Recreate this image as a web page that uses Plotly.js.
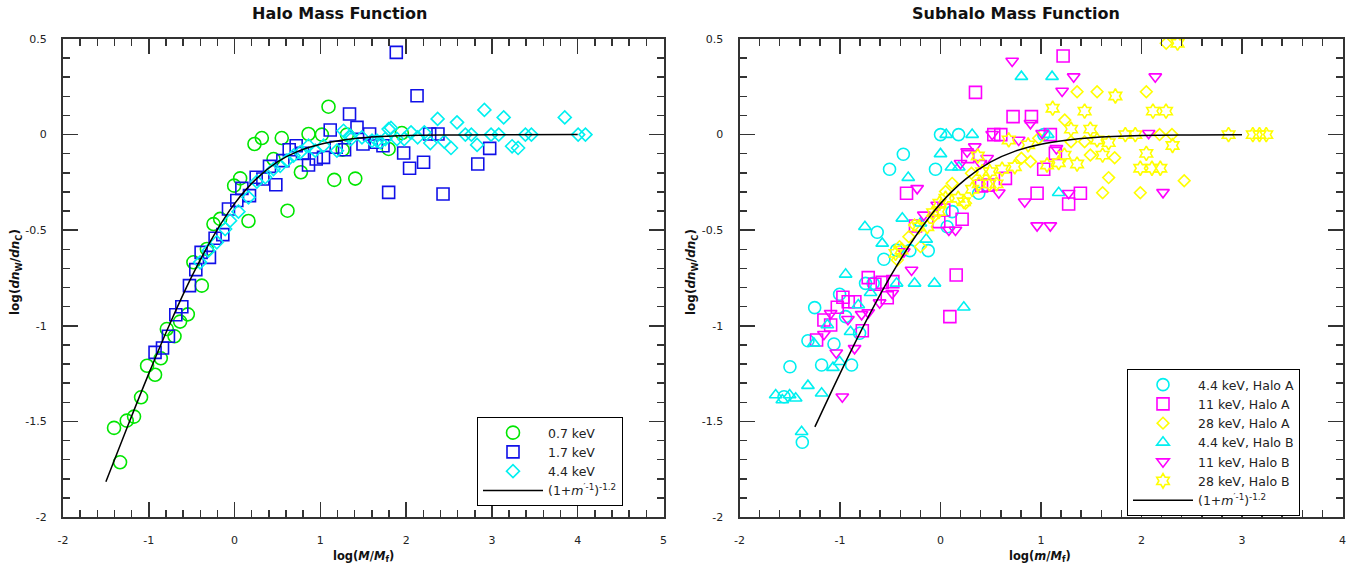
<!DOCTYPE html>
<html>
<head>
<meta charset="utf-8">
<script src="https://cdn.plot.ly/plotly-3.0.1.min.js"></script>
<style>
html,body{margin:0;padding:0;background:#fff;}
#chart{width:1371px;height:568px;}
</style>
</head>
<body>
<div id="chart"></div>
<script>
// ---------------- Halo Mass Function (left) ----------------
const halo07X = [-1.405,-1.335,-1.257,-1.172,-1.09,-1.02,-0.927,-0.86,-0.79,-0.70,-0.635,-0.545,-0.48,-0.382,-0.323,-0.246,-0.168,-0.005,0.065,0.162,0.232,0.318,0.454,0.55,0.617,0.773,0.862,1.018,1.095,1.162,1.26,1.31,1.407,1.796,1.95];
const halo07Y = [-1.534,-1.714,-1.496,-1.475,-1.374,-1.209,-1.256,-1.17,-1.017,-1.055,-0.978,-0.94,-0.668,-0.79,-0.598,-0.468,-0.441,-0.267,-0.229,-0.452,-0.049,-0.018,-0.128,-0.018,-0.398,-0.197,0.003,0.0,0.146,-0.237,-0.079,0.0,-0.23,-0.075,0.008];

const halo17X = [-0.927,-0.84,-0.771,-0.685,-0.615,-0.526,-0.452,-0.39,-0.293,-0.227,-0.137,-0.071,0.026,0.085,0.174,0.252,0.33,0.407,0.481,0.563,0.637,0.718,0.792,0.862,0.952,1.037,1.115,1.185,1.282,1.34,1.427,1.497,1.574,1.652,1.73,1.796,1.885,1.971,2.04,2.127,2.203,2.274,2.371,2.43,2.835,2.974];
const halo17Y = [-1.139,-1.116,-1.055,-0.942,-0.9,-0.79,-0.706,-0.616,-0.642,-0.542,-0.523,-0.389,-0.345,-0.281,-0.319,-0.223,-0.232,-0.166,-0.262,-0.136,-0.079,-0.058,-0.098,-0.159,-0.128,-0.119,0.024,-0.066,-0.079,0.108,0.038,-0.049,0.003,-0.04,-0.058,-0.302,0.43,-0.096,-0.176,0.203,-0.145,0.003,0.003,-0.311,-0.154,-0.072];

const halo44X = [-0.402,-0.305,-0.207,-0.11,-0.052,0.045,0.162,0.26,0.357,0.454,0.532,0.61,0.687,0.765,0.862,0.94,1.037,1.193,1.27,1.348,1.357,1.485,1.602,1.66,1.698,1.757,1.796,1.823,1.893,1.978,2.057,2.134,2.212,2.282,2.367,2.445,2.523,2.593,2.69,2.76,2.827,2.912,2.99,3.079,3.137,3.235,3.305,3.39,3.46,3.849,4.005,4.09];
const halo44Y = [-0.668,-0.607,-0.563,-0.494,-0.45,-0.403,-0.328,-0.246,-0.223,-0.18,-0.163,-0.136,-0.11,-0.093,-0.058,-0.084,-0.058,-0.084,0.02,-0.006,-0.023,-0.014,-0.032,-0.032,-0.04,-0.023,0.029,0.035,-0.023,-0.023,0.012,-0.014,0.012,-0.044,0.082,-0.037,-0.07,0.064,0.0,0.0,-0.054,0.129,0.0,0.0,0.09,-0.061,-0.07,0.0,0.0,0.09,0.0,0.0];

// model curve (1+m'^-1)^-1.2 in log space, tabulated
const haloCurveX = [-1.5,-1.25,-1.0,-0.75,-0.5,-0.25,0.0,0.25,0.5,0.75,1.0,1.25,1.5,2.0,2.5,3.0,4.0];
const haloCurveY = [-1.816,-1.529,-1.250,-0.985,-0.743,-0.533,-0.361,-0.233,-0.143,-0.085,-0.050,-0.029,-0.016,-0.005,-0.002,-0.001,0.0];

// ---------------- Subhalo Mass Function (right) ----------------
const a44X = [0,0.18,-0.37,-0.507,-0.05,0.381,0.116,0.066,-0.63,-0.122,-0.305,-0.437,-0.563,-0.746,-0.67,-1.004,-1.252,-0.944,-0.805,-1.319,-1.06,-1.498,-1.183,-0.885,-1.557,-1.375,1.027];
const a44Y = [0,0,-0.103,-0.181,-0.181,-0.307,-0.403,-0.482,-0.511,-0.607,-0.607,-0.604,-0.652,-0.778,-0.778,-0.835,-0.905,-0.952,-1.039,-1.078,-1.095,-1.214,-1.205,-1.205,-1.371,-1.609,0];

const a11X = [0.348,0.722,0.905,0.53,0.6,0.271,1.027,0.646,0.474,0.408,0.961,-0.338,0.215,0.033,-0.017,-0.249,1.143,1.22,1.093,1.392,1.275,0.156,0.093,-0.719,-0.653,-0.58,-0.474,-0.53,-0.971,-0.918,-0.852,-1.027,-1.16,-1.093,-0.778,-1.233];
const a11Y = [0.221,0.094,0.094,0,0,-0.115,-0.181,-0.229,-0.264,-0.269,-0.307,-0.307,-0.443,-0.394,-0.455,-0.478,-0.098,0.411,0,-0.307,-0.363,-0.734,-0.952,-0.748,-0.783,-0.773,-0.769,-0.853,-0.851,-0.874,-0.874,-0.903,-0.97,-0.996,-1.026,-1.074];

const a28X = [2.246,1.359,1.558,2.048,1.236,1.299,1.434,1.491,1.733,2.18,2.303,1.673,1.613,1.988,2.425,0.977,0.805,0.895,0.116,0.05,0.308,0.249,-0.06,-0.199,-0.408,-0.315,-0.43,-0.258];
const a28Y = [0.478,0.224,0.224,0.224,0.076,-0.037,-0.037,-0.107,-0.121,0,0,-0.225,-0.304,-0.304,-0.241,-0.019,-0.124,-0.141,-0.255,-0.298,-0.202,-0.359,-0.424,-0.586,-0.586,-0.534,-0.656,-0.473];

const b44X = [0.805,1.11,0.057,0.315,0,-0.321,0.109,0.182,-0.2,-0.38,-0.752,-0.58,-0.142,-0.944,1.067,1.176,-0.437,-0.258,-0.06,0.232,-0.696,-0.818,-1.126,-0.895,-1.26,-1.004,-1.07,-1.319,-1.183,-1.64,-1.574,-1.501,-1.441,-1.382];
const b44Y = [0.303,0.303,0,0,-0.101,-0.225,-0.171,-0.171,-0.464,-0.438,-0.482,-0.569,-0.548,-0.731,0,-0.304,-0.778,-0.778,-0.778,-0.903,-0.827,-0.891,-0.996,-1.031,-1.092,-1.188,-1.219,-1.313,-1.353,-1.362,-1.388,-1.362,-1.379,-1.554];

const b11X = [0.713,0.895,0.514,0.778,1.011,0.265,0.341,0.199,0.464,0.398,-0.232,0.58,0.838,0.961,1.093,-0.033,-0.166,0.083,0.149,-0.365,-0.288,1.325,2.137,1.21,2.071,1.153,1.275,2.214,-0.48,-0.606,-1.093,-0.921,-0.785,-0.719,-1.16,-1.037,-0.855,-0.977];
const b11Y = [0.385,0.059,0.002,-0.028,0.007,-0.089,-0.063,-0.15,-0.124,-0.15,-0.281,-0.304,-0.351,-0.476,-0.476,-0.368,-0.42,-0.499,-0.499,-0.612,-0.708,0.303,0.303,0.228,0.007,-0.072,-0.307,-0.302,-0.83,-0.879,-0.935,-0.966,-0.94,-0.931,-1.044,-1.141,-1.118,-1.371];

const b28X = [2.359,1.74,1.116,1.434,2.114,2.244,1.299,1.491,1.558,1.673,1.839,1.938,2.866,3.108,3.174,3.241,2.309,2.048,1.613,1.233,1.176,1.359,1.06,1.988,2.104,2.187,0.679,0.872,0.371,0.415,0.49,0.613,0.739,0.381,0.487,0.557,0.315,0.176,0.232,0.05,-0.01,-0.017,-0.073,-0.132,-0.216,-0.388,-0.447];
const b28Y = [0.478,0.202,0.138,0.123,0.123,0.123,0.029,0.029,-0.028,-0.042,0,0,0,0,0,0,-0.057,-0.098,-0.107,-0.107,-0.147,-0.154,-0.159,-0.176,-0.176,-0.176,-0.028,-0.054,-0.112,-0.194,-0.194,-0.181,-0.168,-0.258,-0.258,-0.258,-0.286,-0.333,-0.351,-0.333,-0.359,-0.403,-0.408,-0.482,-0.482,-0.604,-0.621];

const subCurveX = [-1.25,-1.0,-0.75,-0.5,-0.25,0.0,0.25,0.5,0.75,1.0,1.25,1.5,2.0,2.5,3.0];
const subCurveY = [-1.529,-1.250,-0.985,-0.743,-0.533,-0.361,-0.233,-0.143,-0.085,-0.050,-0.029,-0.016,-0.005,-0.002,-0.001];

// ---------------- Tick labels ----------------
const leftXTicks = [-2,-1,0,1,2,3,4,5];
const rightXTicks = [-2,-1,0,1,2,3,4];
const yTicks = [-2,-1.5,-1,-0.5,0,0.5];
const yTickText = ['-2','-1.5','-1','-0.5','0','0.5'];
const labels = {
  left: ['0.7 keV','1.7 keV','4.4 keV'],
  right: ['4.4 keV, Halo A','11 keV, Halo A','28 keV, Halo A','4.4 keV, Halo B','11 keV, Halo B','28 keV, Halo B'],
  curve: '(1+<i>m</i><sup>\u2032-1</sup>)<sup>-1.2</sup>'
};

const FONT = 'DejaVu Sans, sans-serif';
const green = '#00e600', blue = '#1010e8', cyan = '#00f0f0', magenta = '#ff00ff', yellow = '#ffff00';

function pts(x, y, name, symbol, color, size, xa, ya, leg) {
  return {x: x, y: y, name: name, type: 'scatter', mode: 'markers', xaxis: xa, yaxis: ya, legend: leg,
    marker: {symbol: symbol, size: size, color: color, line: {color: color, width: 1.6}}};
}
function curve(x, y, xa, ya, leg) {
  return {x: x, y: y, name: labels.curve, type: 'scatter', mode: 'lines', xaxis: xa, yaxis: ya, legend: leg,
    line: {color: '#000', width: 1.5, shape: 'spline', smoothing: 1}};
}

const data = [
  pts(halo07X, halo07Y, labels.left[0], 'circle-open', green, 13, 'x', 'y', 'legend'),
  pts(halo17X, halo17Y, labels.left[1], 'square-open', blue, 12, 'x', 'y', 'legend'),
  pts(halo44X, halo44Y, labels.left[2], 'diamond-open', cyan, 10, 'x', 'y', 'legend'),
  curve(haloCurveX, haloCurveY, 'x', 'y', 'legend'),
  pts(a44X, a44Y, labels.right[0], 'circle-open', cyan, 12, 'x2', 'y2', 'legend2'),
  pts(a11X, a11Y, labels.right[1], 'square-open', magenta, 12, 'x2', 'y2', 'legend2'),
  pts(a28X, a28Y, labels.right[2], 'diamond-open', yellow, 9, 'x2', 'y2', 'legend2'),
  pts(b44X, b44Y, labels.right[3], 'triangle-up-open', cyan, 11, 'x2', 'y2', 'legend2'),
  pts(b11X, b11Y, labels.right[4], 'triangle-down-open', magenta, 11, 'x2', 'y2', 'legend2'),
  pts(b28X, b28Y, labels.right[5], 'hexagram-open', yellow, 11, 'x2', 'y2', 'legend2'),
  curve(subCurveX, subCurveY, 'x2', 'y2', 'legend2')
];

const axColor = '#333';
function xax(domain, range, ticks, anchor) {
  return {domain: domain, range: range, anchor: anchor, tickmode: 'array', tickvals: ticks, ticktext: ticks.map(String),
    ticks: 'inside', ticklen: 15, tickwidth: 1.5, tickcolor: axColor, showline: true, linewidth: 2, linecolor: axColor,
    mirror: 'ticks', showgrid: false, zeroline: false, ticklabelstandoff: 12,
    tickfont: {family: FONT, size: 11, color: '#222'},
    minor: {dtick: 0.2, tick0: 0, ticks: 'inside', ticklen: 7, tickwidth: 1.5, tickcolor: axColor, showgrid: false}};
}
function yax(domain, anchor) {
  return {domain: domain, range: [-2, 0.5], anchor: anchor, tickmode: 'array', tickvals: yTicks, ticktext: yTickText,
    ticks: 'inside', ticklen: 15, tickwidth: 1.5, tickcolor: axColor, showline: true, linewidth: 2, linecolor: axColor,
    mirror: 'ticks', showgrid: false, zeroline: false, ticklabelstandoff: 12,
    tickfont: {family: FONT, size: 11, color: '#222'},
    minor: {dtick: 0.1, tick0: 0, ticks: 'inside', ticklen: 7, tickwidth: 1.5, tickcolor: axColor, showgrid: false}};
}

const yDom = [1 - 517/568, 1 - 39/568];
const legendStyle = {bgcolor: '#fff', bordercolor: '#000', borderwidth: 1, font: {family: FONT, size: 12.5, color: '#222'},
  xanchor: 'left', yanchor: 'top', itemwidth: 60, itemclick: false, tracegroupgap: 0};

const layout = {
  width: 1371, height: 568, paper_bgcolor: '#fff', plot_bgcolor: '#fff',
  margin: {l: 0, r: 0, t: 0, b: 0}, showlegend: true,
  font: {family: FONT, size: 11, color: '#222'},
  xaxis: xax([63/1371, 663.5/1371], [-2, 5], leftXTicks, 'y'),
  yaxis: yax(yDom, 'x'),
  xaxis2: xax([739.5/1371, 1342.5/1371], [-2, 4], rightXTicks, 'y2'),
  yaxis2: yax(yDom, 'x2'),
  legend: Object.assign({}, legendStyle, {x: 477/1371, y: 1 - 417/568}),
  legend2: Object.assign({}, legendStyle, {x: 1127/1371, y: 1 - 369/568}),
  annotations: [
    {text: '<b>Halo Mass Function</b>', xref: 'paper', yref: 'paper', x: 339/1371, y: 1 - 13/568, showarrow: false,
      xanchor: 'center', yanchor: 'middle', font: {family: FONT, size: 16, color: '#111'}},
    {text: '<b>Subhalo Mass Function</b>', xref: 'paper', yref: 'paper', x: 1016/1371, y: 1 - 13/568, showarrow: false,
      xanchor: 'center', yanchor: 'middle', font: {family: FONT, size: 16, color: '#111'}},
    {text: '<b>log(<i>M</i>/<i>M</i><sub>f</sub>)</b>', xref: 'paper', yref: 'paper', x: 363/1371, y: 1 - 556/568, showarrow: false,
      xanchor: 'center', yanchor: 'middle', font: {family: FONT, size: 11.5, color: '#111'}},
    {text: '<b>log(<i>m</i>/<i>M</i><sub>f</sub>)</b>', xref: 'paper', yref: 'paper', x: 1040/1371, y: 1 - 556/568, showarrow: false,
      xanchor: 'center', yanchor: 'middle', font: {family: FONT, size: 11.5, color: '#111'}},
    {text: '<b>log(<i>dn</i><sub>W</sub>/<i>dn</i><sub>C</sub>)</b>', xref: 'paper', yref: 'paper', x: 16/1371, y: 1 - 272/568, showarrow: false,
      textangle: -90, xanchor: 'center', yanchor: 'middle', font: {family: FONT, size: 12, color: '#111'}},
    {text: '<b>log(<i>dn</i><sub>W</sub>/<i>dn</i><sub>C</sub>)</b>', xref: 'paper', yref: 'paper', x: 692/1371, y: 1 - 272/568, showarrow: false,
      textangle: -90, xanchor: 'center', yanchor: 'middle', font: {family: FONT, size: 12, color: '#111'}}
  ]
};

Plotly.newPlot('chart', data, layout, {displayModeBar: false, staticPlot: true});
</script>
</body>
</html>
